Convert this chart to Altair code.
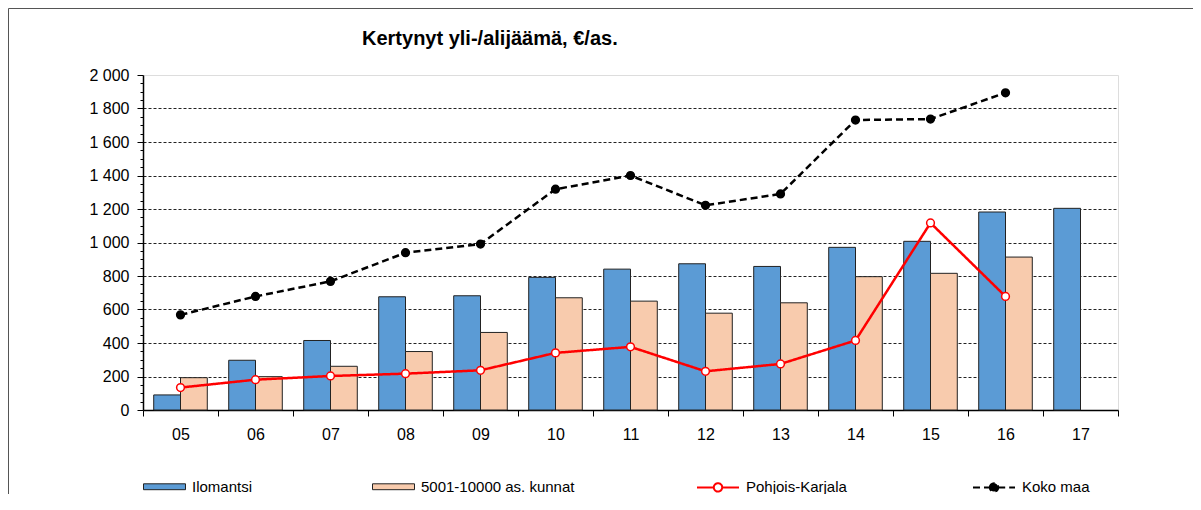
import altair as alt
import pandas as pd

years = ["05", "06", "07", "08", "09", "10", "11", "12", "13", "14", "15", "16", "17"]
bar_series = ["Ilomantsi", "5001-10000 as. kunnat"]
line_series = ["Pohjois-Karjala", "Koko maa"]

ilomantsi = [90, 297, 415, 676, 682, 792, 841, 873, 857, 971, 1007, 1182, 1204]
kunnat = [193, 199, 261, 349, 463, 670, 650, 578, 640, 796, 816, 913, None]
pohjois_karjala = [134, 181, 203, 217, 237, 341, 377, 231, 275, 415, 1117, 678, None]
koko_maa = [568, 678, 768, 939, 991, 1318, 1400, 1222, 1290, 1731, 1737, 1894, None]

title_text = "Kertynyt yli-/alijäämä, €/as."

bars_rows = []
for s, vals in zip(bar_series, [ilomantsi, kunnat]):
    for yr, v in zip(years, vals):
        if v is not None:
            bars_rows.append({"year": yr, "series": s, "value": v})
bars_df = pd.DataFrame(bars_rows)

line_rows = []
for s, vals in zip(line_series, [pohjois_karjala, koko_maa]):
    for yr, v in zip(years, vals):
        if v is not None:
            line_rows.append({"year": yr, "series": s, "value": v})
lines_df = pd.DataFrame(line_rows)

FONT = "Liberation Sans"

x_enc = alt.X(
    "year:N",
    scale=alt.Scale(domain=years, paddingInner=0, paddingOuter=0),
    axis=alt.Axis(
        title=None, tickBand="extent", labelAngle=0, labelFontSize=16,
        labelPadding=10, tickSize=6, tickColor="black", domainColor="black",
        domainWidth=1.5, labelColor="black", labelFont=FONT,
    ),
)

y_scale = alt.Scale(domain=[0, 2000], nice=False)
y_axis = alt.Axis(
    title=None,
    values=list(range(0, 2001, 50)),
    tickCount=100,
    labelExpr="datum.value % 200 === 0 ? replace(format(datum.value, ','), ',', ' ') : ''",
    labelOverlap=False,
    labelFontSize=16,
    labelFont=FONT,
    labelColor="black",
    labelPadding=8,
    tickSize={"condition": {"test": "datum.value % 200 === 0", "value": 6}, "value": 3},
    tickColor="black",
    domainColor="black",
    domainWidth=1.5,
    grid=True,
    gridColor="#222222",
    gridDash=[3, 2],
    gridWidth=1,
    gridOpacity={"condition": {"test": "datum.value % 200 === 0 && datum.value > 0 && datum.value < 2000", "value": 1}, "value": 0},
)

bar_legend = alt.Legend(
    title=None, orient="none", legendX=0, legendY=390, direction="horizontal",
    symbolType="M-1,-0.14H1V0.14H-1Z", symbolSize=1764, symbolStrokeColor="#222222",
    symbolStrokeWidth=1, labelFontSize=15, labelFont=FONT, labelColor="black",
    labelOffset=6, columnPadding=117, padding=0,
)

bars = alt.Chart(bars_df).mark_bar(stroke="#222222", strokeWidth=1, opacity=1).encode(
    x=x_enc,
    xOffset=alt.XOffset("series:N", scale=alt.Scale(domain=bar_series, paddingInner=0, paddingOuter=0.4)),
    y=alt.Y("value:Q", scale=y_scale, axis=y_axis),
    color=alt.Color("series:N", scale=alt.Scale(domain=bar_series, range=["#5B9BD5", "#F8CBAD"]), legend=bar_legend),
)

line_legend = alt.Legend(
    title=None, orient="none", legendX=553, legendY=390, direction="horizontal",
    symbolType="M-1,0H-0.2M0.2,0H1M-0.2,0A0.2,0.2 0 1,1 0.2,0A0.2,0.2 0 1,1 -0.2,0Z",
    symbolSize=1764, symbolStrokeWidth=2, labelFontSize=15, labelFont=FONT,
    labelColor="black", labelOffset=6, columnPadding=122, padding=0,
)

stroke_enc = alt.Stroke("series:N", scale=alt.Scale(domain=line_series, range=["#FF0000", "#000000"]), legend=line_legend)

lines = alt.Chart(lines_df).mark_line(strokeWidth=2.5).encode(
    x=x_enc,
    y=alt.Y("value:Q", scale=y_scale),
    stroke=stroke_enc,
    strokeDash=alt.StrokeDash("series:N", scale=alt.Scale(domain=line_series, range=[[1, 0], [7, 4]]), legend=line_legend),
)

points = alt.Chart(lines_df).mark_point(size=60, strokeWidth=1.5, opacity=1, filled=False).encode(
    x=x_enc,
    y=alt.Y("value:Q", scale=y_scale),
    stroke=stroke_enc,
    fill=alt.Fill("series:N", scale=alt.Scale(domain=line_series, range=["#FFFFFF", "#000000"]), legend=line_legend),
)

frame_df = pd.DataFrame({"k": [0]})
frame = alt.Chart(frame_df).mark_rect(fill=None, stroke="#555555", strokeWidth=1, clip=False).encode(
    x=alt.value(-134.5), x2=alt.value(1200), y=alt.value(-66.5), y2=alt.value(600)
)

chart = alt.layer(frame, bars, lines, points).properties(
    width=975,
    height=335,
    padding={"left": 135, "top": 67, "right": 75, "bottom": 84},
    autosize=alt.AutoSizeParams(type="none"),
    title=alt.Title(title_text, anchor="start", dx=219, fontSize=20, fontWeight="bold",
                    font=FONT, color="black", offset=-57, baseline="alphabetic", frame="group"),
).configure_view(fill="#F8F8F8", stroke="#A0A0A0").configure(font=FONT)

chart.save("out.html", embed_options={"renderer": "svg", "actions": False})
